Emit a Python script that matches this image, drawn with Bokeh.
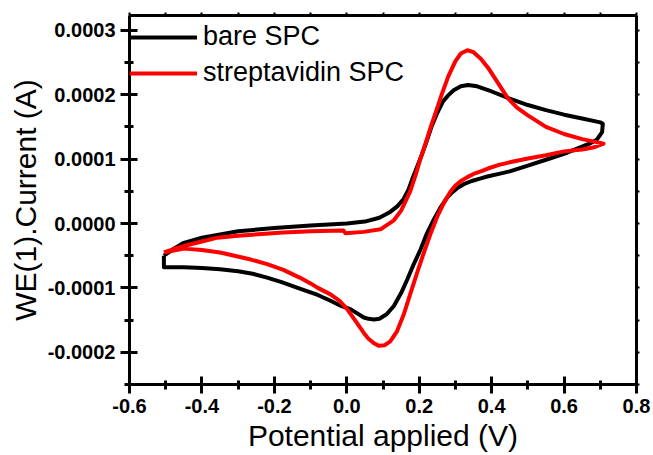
from bokeh.plotting import figure
from bokeh.models import (Range1d, LinearAxis, FixedTicker, Legend, LegendItem,
                          PrintfTickFormatter)
from bokeh.embed import file_html
from bokeh.resources import INLINE

# ---- data (potential in V, current in microamps) ----
bare_x_fwd = [-0.505, -0.48, -0.45, -0.40, -0.35, -0.30, -0.20, -0.10, 0.00, 0.05, 0.09,
              0.12, 0.14, 0.157, 0.17, 0.185, 0.204, 0.22, 0.235, 0.25, 0.265, 0.28, 0.295,
              0.315, 0.335, 0.36, 0.40, 0.45, 0.50, 0.55, 0.60, 0.65, 0.70, 0.707]
bare_i_fwd = [-50, -40, -30, -22, -17, -12, -7, -3, 0, 3, 9,
              18, 27, 38, 52, 75, 102, 127, 152, 172, 189, 199, 207,
              213, 215, 213, 205, 194, 184, 176, 169, 163, 157, 155]
bare_x_rev = [0.707, 0.705, 0.69, 0.67, 0.60, 0.55, 0.50, 0.45, 0.42, 0.388, 0.37, 0.345,
              0.323, 0.305, 0.29, 0.277, 0.26, 0.24, 0.22, 0.204, 0.185, 0.167, 0.15, 0.13,
              0.11, 0.09, 0.075, 0.06, 0.047, 0.03, 0.01, -0.02, -0.045, -0.08, -0.13,
              -0.18, -0.22, -0.26, -0.30, -0.35, -0.40, -0.45, -0.505, -0.505]
bare_i_rev = [155, 142, 130, 124, 108, 99, 90, 81, 77, 73, 70, 66,
              61, 55, 48, 40, 26, 6, -17, -40, -63, -87, -108, -128,
              -141, -148, -149, -148, -146, -140, -133, -127, -120, -111, -101,
              -91, -84, -78, -74, -71, -69, -68, -68, -50]

strep_x_fwd = [-0.505, -0.48, -0.45, -0.40, -0.357, -0.30, -0.175, -0.10, -0.009, -0.004,
               0.047, 0.093, 0.13, 0.15, 0.165, 0.175, 0.19, 0.203, 0.218, 0.232, 0.247,
               0.262, 0.28, 0.30, 0.315, 0.333, 0.35, 0.37, 0.39, 0.42, 0.444, 0.47, 0.50,
               0.55, 0.60, 0.65, 0.709]
strep_i_fwd = [-45, -40, -35, -28, -22, -19, -14, -12, -11, -15,
               -13, -9, 5, 20, 38, 50, 75, 100, 125, 150, 175,
               200, 228, 252, 264, 269, 266, 256, 242, 216, 195, 180, 168,
               150, 139, 131, 124]
strep_x_rev = [0.709, 0.68, 0.65, 0.60, 0.55, 0.50, 0.45, 0.42, 0.388, 0.37, 0.35, 0.333,
               0.315, 0.30, 0.287, 0.27, 0.25, 0.23, 0.213, 0.195, 0.176, 0.158, 0.139,
               0.12, 0.105, 0.089, 0.075, 0.06, 0.047, 0.025, 0.001, -0.02, -0.045, -0.08,
               -0.10, -0.13, -0.175, -0.22, -0.265, -0.31, -0.35, -0.40, -0.45, -0.505]
strep_i_rev = [124, 118, 115, 112, 106, 101, 95, 91, 85, 81, 77, 72,
               66, 59, 50, 34, 11, -18, -45, -75, -108, -140, -167,
               -183, -189, -190, -186, -179, -170, -152, -133, -120, -110, -100,
               -93, -84, -72, -63, -56, -50, -45, -41, -39, -45]

x_ticks = [-0.6, -0.4, -0.2, 0.0, 0.2, 0.4, 0.6, 0.8]
x_minor = [-0.5, -0.3, -0.1, 0.1, 0.3, 0.5, 0.7]
y_ticks = [-0.0002, -0.0001, 0.0, 0.0001, 0.0002, 0.0003]
y_minor = [-0.00025, -0.00015, -0.00005, 0.00005, 0.00015, 0.00025]

legend_labels = ["bare SPC", "streptavidin SPC"]
x_label = "Potential applied (V)"
y_label = "WE(1).Current (A)"

# ---- build ----
bare_x = bare_x_fwd + bare_x_rev
bare_y = [v * 1e-6 for v in bare_i_fwd + bare_i_rev]
strep_x = strep_x_fwd + strep_x_rev
strep_y = [v * 1e-6 for v in strep_i_fwd + strep_i_rev]

p = figure(width=653, height=455, output_backend="svg", toolbar_location=None,
           x_range=Range1d(-0.6, 0.8), y_range=Range1d(-0.00025, 0.000323),
           min_border_left=129, min_border_right=17, min_border_top=15,
           min_border_bottom=71, x_axis_label=x_label, y_axis_label=y_label)
p.background_fill_color = "white"
p.border_fill_color = "white"
p.outline_line_color = None
p.grid.visible = False

FONT = "Liberation Sans"

for ax, ticks, minor in ((p.xaxis[0], x_ticks, x_minor), (p.yaxis[0], y_ticks, y_minor)):
    ax.ticker = FixedTicker(ticks=ticks, minor_ticks=minor)
    ax.axis_line_width = 3
    ax.major_tick_line_width = 3
    ax.minor_tick_line_width = 3
    ax.major_tick_in = 8
    ax.major_tick_out = 9
    ax.minor_tick_in = 4
    ax.minor_tick_out = 5
    ax.major_label_text_font = FONT
    ax.major_label_text_font_style = "bold"
    ax.major_label_text_font_size = "20px"
    ax.major_label_text_color = "black"
    ax.major_label_standoff = 5
    ax.axis_label_text_font = FONT
    ax.axis_label_text_font_style = "normal"
    ax.axis_label_text_font_size = "30px"
    ax.axis_label_text_color = "black"
    ax.axis_label_standoff = 3

p.xaxis[0].formatter = PrintfTickFormatter(format="%.1f")
p.yaxis[0].formatter = PrintfTickFormatter(format="%.4f")

for side, ticks, minor in (("above", x_ticks, x_minor), ("right", y_ticks, y_minor)):
    ax = LinearAxis(ticker=FixedTicker(ticks=ticks, minor_ticks=minor))
    ax.axis_line_width = 3
    ax.major_tick_line_width = 2
    ax.minor_tick_line_width = 2
    ax.major_tick_in = 0
    ax.major_tick_out = 3
    ax.minor_tick_in = 0
    ax.minor_tick_out = 3
    ax.major_label_text_font_size = "0px"
    ax.major_label_text_alpha = 0
    ax.major_label_standoff = 0
    p.add_layout(ax, side)

r1 = p.line(bare_x, bare_y, line_color="black", line_width=4, line_join="round")
r2 = p.line(strep_x, strep_y, line_color="#ff0000", line_width=4, line_join="round")

legend = Legend(items=[LegendItem(label=legend_labels[0], renderers=[r1]),
                       LegendItem(label=legend_labels[1], renderers=[r2])],
                location=(0, 296), margin=0, padding=0, spacing=5,
                glyph_width=68, glyph_height=30, label_height=30, label_standoff=6,
                label_text_font=FONT, label_text_font_size="27px",
                label_text_color="black", border_line_alpha=0,
                background_fill_alpha=0)
p.add_layout(legend, "center")

open("out.html", "w").write(file_html(p, INLINE))
